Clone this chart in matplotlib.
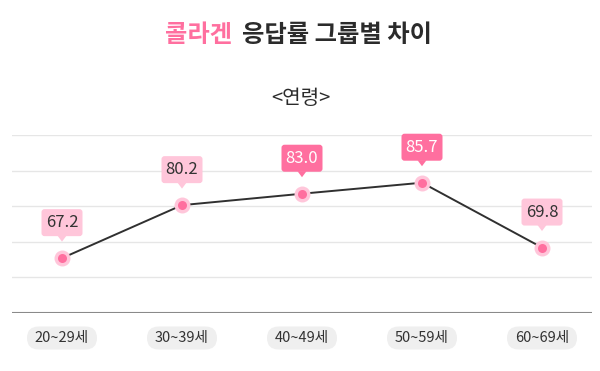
import numpy as np
import matplotlib
matplotlib.use("Agg")
import matplotlib.pyplot as plt
from matplotlib.patches import FancyBboxPatch, Polygon
from matplotlib.transforms import ScaledTranslation

plt.rcParams['font.family'] = ['Noto Sans CJK KR', 'DejaVu Sans']

# 데이터
age_groups = ['20~29세', '30~39세', '40~49세', '50~59세', '60~69세']
rates = [67.2, 80.2, 83.0, 85.7, 69.8]
highlight = [False, False, True, True, False]   # 진한 분홍 라벨

PINK = '#ff6f9f'
LIGHT_PINK = '#ffc6da'
DARK = '#2b2b2b'

fig = plt.figure(figsize=(6, 3.71), dpi=100)
ax = fig.add_axes([12 / 600, 58 / 371, 580 / 600, 178 / 371])

x = np.arange(len(age_groups))
ylim = (53.75, 97.4)
ax.set_xlim(-50 / 120, 530 / 120)
ax.set_ylim(*ylim)

# 가로 격자선
for gy in np.linspace(ylim[0], ylim[1], 6)[1:]:
    ax.axhline(gy, color='#e6e6e6', lw=1, zorder=0)
ax.axhline(ylim[0], color='#8a8a8a', lw=1.5, zorder=1)

for s in ax.spines.values():
    s.set_visible(False)
ax.set_xticks([])
ax.set_yticks([])

# 선 + 점
ax.plot(x, rates, color='#303030', lw=1.4, zorder=2)
ax.plot(x, rates, 'o', ms=11.5, color=LIGHT_PINK, mec='none', zorder=3)
ax.plot(x, rates, 'o', ms=6.5, color=PINK, mec='none', zorder=4)

# 말풍선 라벨 (단위: inch, 점 기준)
for i, v in enumerate(rates):
    tr = fig.dpi_scale_trans + ScaledTranslation(x[i], v, ax.transData)
    bg = PINK if highlight[i] else LIGHT_PINK
    fg = 'white' if highlight[i] else '#333333'
    box = FancyBboxPatch((-0.205, 0.22), 0.41, 0.27,
                         boxstyle='round,pad=0,rounding_size=0.03',
                         transform=tr, fc=bg, ec='none', clip_on=False, zorder=5)
    ax.add_patch(box)
    tri = Polygon([(-0.045, 0.225), (0.045, 0.225), (0, 0.165)], closed=True,
                  transform=tr, fc=bg, ec='none', clip_on=False, zorder=5)
    ax.add_patch(tri)
    ax.text(0, 0.355, f'{v:.1f}', transform=tr, ha='center', va='center',
            fontsize=12, color=fg, zorder=6)

# x축 라벨 (회색 알약 모양)
for i, lab in enumerate(age_groups):
    tr = fig.dpi_scale_trans + ScaledTranslation(x[i], ylim[0], ax.transData)
    pill = FancyBboxPatch((-0.35, -0.365), 0.70, 0.23,
                          boxstyle='round,pad=0,rounding_size=0.115',
                          transform=tr, fc='#efefef', ec='none', clip_on=False)
    ax.add_patch(pill)
    ax.text(0, -0.25, lab, transform=tr, ha='center', va='center',
            fontsize=10.5, color='#333333')

# 제목
fig.text(165 / 600, 1 - 35 / 371, '콜라겐', color=PINK, fontsize=17.5,
         fontweight='bold', ha='left', va='center')
fig.text(242 / 600, 1 - 35 / 371, '응답률 그룹별 차이', color=DARK, fontsize=17.5,
         fontweight='bold', ha='left', va='center')
fig.text(301 / 600, 1 - 99 / 371, '<연령>', color=DARK, fontsize=14.5,
         ha='center', va='center')

fig.savefig('out.png', dpi=100)
